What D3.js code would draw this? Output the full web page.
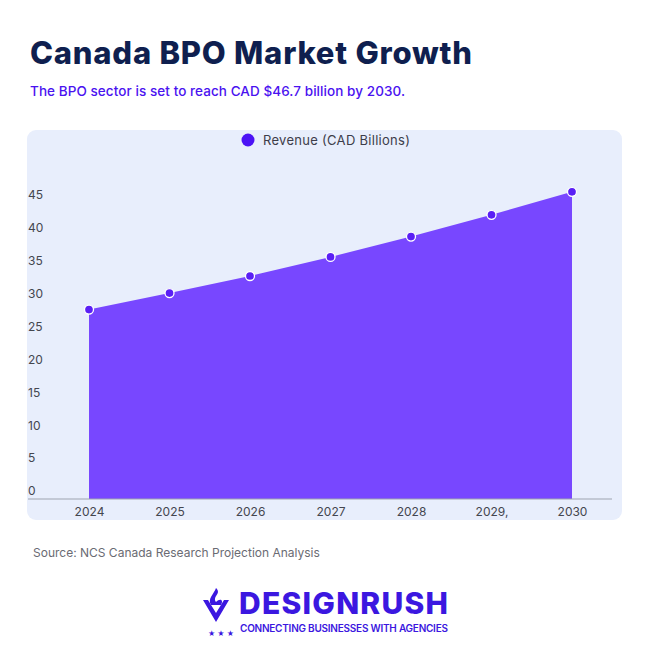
<!DOCTYPE html>
<html>
<head>
<meta charset="utf-8">
<script src="https://cdn.jsdelivr.net/npm/d3@7"></script>
<style>
  body { margin: 0; background: #ffffff; }
  text { font-family: "Inter", "Lato", sans-serif; }
</style>
</head>
<body>
<script>

// Chart data
var years = ["2024", "2025", "2026", "2027", "2028", "2029,", "2030"];
var revenue = [28.8, 31.3, 33.9, 36.8, 39.9, 43.2, 46.7];
var yTicks = [0, 5, 10, 15, 20, 25, 30, 35, 40, 45];
var seriesName = "Revenue (CAD Billions)";

var w = 650;
var h = 650;

var svg = d3.select("body")
            .append("svg")
            .attr("width", w)
            .attr("height", h);

// Title and subtitle
svg.append("text")
   .attr("x", 30)
   .attr("y", 64)
   .attr("font-size", 31)
   .attr("font-weight", 800)
   .attr("fill", "#0f1f4f")
   .attr("textLength", 442)
   .text("Canada BPO Market Growth");

svg.append("text")
   .attr("x", 30)
   .attr("y", 96)
   .attr("font-size", 13.5)
   .attr("font-weight", 500)
   .attr("fill", "#4a12f0")
   .attr("textLength", 375)
   .text("The BPO sector is set to reach CAD $46.7 billion by 2030.");

// Light panel behind the chart
svg.append("rect")
   .attr("x", 27)
   .attr("y", 130)
   .attr("width", 595)
   .attr("height", 390)
   .attr("rx", 9)
   .attr("fill", "#e8eefc");

// Legend
svg.append("circle")
   .attr("cx", 248)
   .attr("cy", 140)
   .attr("r", 6.5)
   .attr("fill", "#4b12f5");

svg.append("text")
   .attr("x", 263)
   .attr("y", 145)
   .attr("font-size", 13)
   .attr("fill", "#3d3d4a")
   .attr("textLength", 147)
   .text(seriesName);

// Scales
var xScale = d3.scalePoint()
               .domain(years)
               .range([89, 572]);

var yScale = d3.scaleLinear()
               .domain([0, 45])
               .range([499, 203]);

// Area under the line
var area = d3.area()
             .x((d, i) => xScale(years[i]))
             .y0(yScale(0))
             .y1(d => yScale(d));

svg.append("path")
   .datum(revenue)
   .attr("d", area)
   .attr("fill", "#7847ff");

// x axis line and labels
var xAxis = svg.append("g")
               .attr("transform", `translate(0, ${yScale(0)})`)
               .call(d3.axisBottom(xScale).tickSize(0).tickPadding(8));

xAxis.select(".domain").remove();
xAxis.append("line")
     .attr("x1", 28)
     .attr("x2", 612)
     .attr("stroke", "#9ea3b0")
     .attr("stroke-width", 1.2);

xAxis.selectAll("text")
     .attr("font-size", 12)
     .attr("font-family", "Inter, Lato, sans-serif")
     .attr("fill", "#44464f");

// y axis labels, sitting just above their value
var yAxis = svg.append("g")
               .attr("transform", "translate(28, 0)")
               .call(d3.axisRight(yScale).tickValues(yTicks).tickSize(0).tickPadding(0));

yAxis.select(".domain").remove();
yAxis.selectAll("text")
     .attr("dy", "-0.35em")
     .attr("font-size", 12)
     .attr("font-family", "Inter, Lato, sans-serif")
     .attr("fill", "#44464f");

// Points
svg.selectAll("circle.dot")
   .data(revenue)
   .enter()
   .append("circle")
   .attr("class", "dot")
   .attr("cx", (d, i) => xScale(years[i]))
   .attr("cy", d => yScale(d))
   .attr("r", 4.5)
   .attr("fill", "#5a1ff5")
   .attr("stroke", "#ffffff")
   .attr("stroke-width", 1.3);

// Source
svg.append("text")
   .attr("x", 33)
   .attr("y", 557)
   .attr("font-size", 12)
   .attr("fill", "#6a6b73")
   .text("Source: NCS Canada Research Projection Analysis");

// Logo
var logo = svg.append("g");

logo.append("path")
    .attr("d", "M203,600 L216,622 L229,600 L224,600 L216,613 L208,600 Z")
    .attr("fill", "#3b17e0");
logo.append("path")
    .attr("d", "M216,588 C222,594 212,596 216,602 C220,598 224,600 221,605 L211,605 C207,599 214,594 216,588 Z")
    .attr("fill", "#3b17e0");

logo.append("text")
    .attr("x", 208)
    .attr("y", 636)
    .attr("font-size", 7)
    .attr("fill", "#3b17e0")
    .attr("letter-spacing", 2)
    .text("★★★");

logo.append("text")
    .attr("x", 239)
    .attr("y", 614)
    .attr("font-size", 30)
    .attr("font-weight", 800)
    .attr("fill", "#3b17e0")
    .attr("textLength", 209)
    .text("DESIGNRUSH");

logo.append("text")
    .attr("x", 240)
    .attr("y", 632)
    .attr("font-size", 10)
    .attr("font-weight", 600)
    .attr("fill", "#3b17e0")
    .attr("textLength", 208)
    .text("CONNECTING BUSINESSES WITH AGENCIES");

</script>
</body>
</html>
